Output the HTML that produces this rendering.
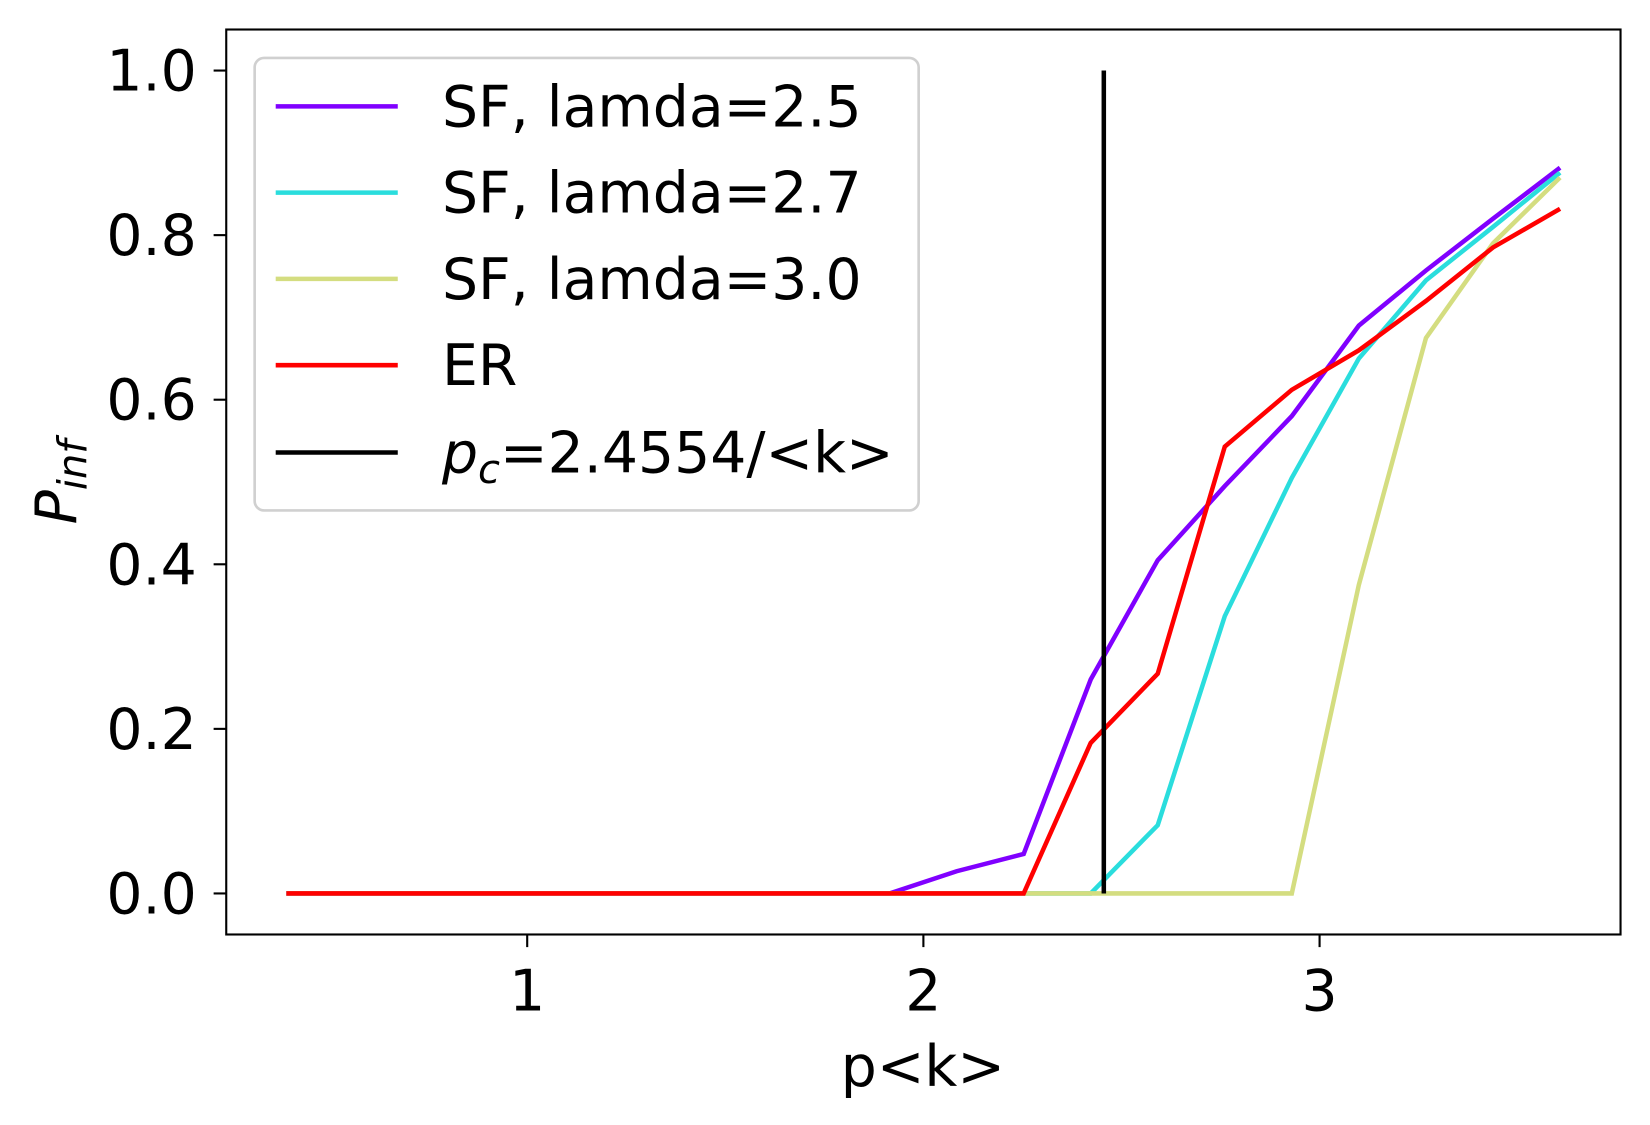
<!DOCTYPE html>
<html><head><meta charset="utf-8"><style>
html,body{margin:0;padding:0;background:#fff;}
svg{display:block;font-family:"DejaVu Sans","Liberation Sans",sans-serif;}
</style></head><body>
<svg id="chart" width="1650" height="1125" viewBox="0 0 1568 1069" xmlns="http://www.w3.org/2000/svg">
<rect width="1568" height="1069" fill="#fff"/>
<g id="plot"></g>
</svg>
<script>
const xStart = 0.392, xStep = 0.1692;
const sf25 = [0,0,0,0,0,0,0,0,0,0,0.027,0.048,0.26,0.405,0.495,0.58,0.69,0.757,0.82,0.882];
const sf27 = [0,0,0,0,0,0,0,0,0,0,0,0,0,0.083,0.337,0.505,0.65,0.745,0.81,0.876];
const sf30 = [0,0,0,0,0,0,0,0,0,0,0,0,0,0,0,0,0.375,0.675,0.79,0.87];
const er = [0,0,0,0,0,0,0,0,0,0,0,0,0.183,0.267,0.543,0.612,0.66,0.72,0.785,0.832];
const xTicks = [1,2,3];
const yTicks = [0.0,0.2,0.4,0.6,0.8,1.0];
const pc = 2.4554;
const legendLabels = ["SF, lamda=2.5","SF, lamda=2.7","SF, lamda=3.0","ER"];
const colors = ["#8000ff","#2adddd","#d4dd80","#ff0000"];

const L=215,R=1540,T=28,B=888;
const FS=54, LW=4.3;
function sx(v){return 501+(v-1)*376.5;}
function sy(v){return 849-v*782;}
const NS="http://www.w3.org/2000/svg";
const g=document.getElementById('plot');
function mk(tag,attrs,parent){const e=document.createElementNS(NS,tag);for(const k in attrs)e.setAttribute(k,attrs[k]);(parent||g).appendChild(e);return e;}

const series=[sf25,sf27,sf30,er];
series.forEach((s,si)=>{
  const pts=s.map((v,i)=>sx(xStart+i*xStep).toFixed(1)+','+sy(v).toFixed(1)).join(' ');
  const p=mk('polyline',{points:pts,fill:'none',stroke:colors[si],'stroke-width':LW,'stroke-linejoin':'miter'});
  
  
});
const vl=mk('line',{x1:sx(pc),x2:sx(pc),y1:sy(0),y2:sy(1),stroke:'#000','stroke-width':LW});



const frame=mk('rect',{x:L,y:T,width:R-L,height:B-T,fill:'none',stroke:'#000','stroke-width':2});



xTicks.forEach(t=>{
  mk('line',{x1:sx(t),x2:sx(t),y1:B,y2:B+12,stroke:'#000','stroke-width':2});
  const tx=mk('text',{x:sx(t),y:B+72,'font-size':FS,'text-anchor':'middle'});
  tx.textContent=String(t);
  
  
});
yTicks.forEach(t=>{
  mk('line',{x1:L-12,x2:L,y1:sy(t),y2:sy(t),stroke:'#000','stroke-width':2});
  const tx=mk('text',{x:L-28,y:sy(t)+19,'font-size':FS,'text-anchor':'end'});
  tx.textContent=t.toFixed(1);
  
  
});
const xt=mk('text',{x:877,y:1032,'font-size':FS,'text-anchor':'middle'});
xt.textContent='p<k>';


const yt=mk('text',{x:0,y:0,'font-size':FS,'text-anchor':'middle',transform:'translate(72,458) rotate(-90)','font-style':'italic'});
yt.innerHTML='P<tspan font-size="38" dy="10">inf</tspan>';



const lg=mk('g',{});


mk('rect',{x:242,y:55,width:631,height:430,rx:9,fill:'#fff','fill-opacity':0.8,stroke:'#d0d0d0','stroke-width':2.5},lg);
const rows=[101,183,265,347,430];
legendLabels.forEach((lab,i)=>{
  mk('line',{x1:262,x2:378,y1:rows[i],y2:rows[i],stroke:colors[i],'stroke-width':LW},lg);
  const t=mk('text',{x:420,y:rows[i]+19,'font-size':FS},lg);
  t.textContent=lab;
  
  
});
mk('line',{x1:262,x2:378,y1:rows[4],y2:rows[4],stroke:'#000','stroke-width':LW},lg);
const lt=mk('text',{x:420,y:rows[4]+19,'font-size':FS},lg);
lt.innerHTML='<tspan font-style="italic">p</tspan><tspan font-style="italic" font-size="38" dy="10">c</tspan><tspan dy="-10">=2.4554/&lt;k&gt;</tspan>';


</script>
</body></html>
